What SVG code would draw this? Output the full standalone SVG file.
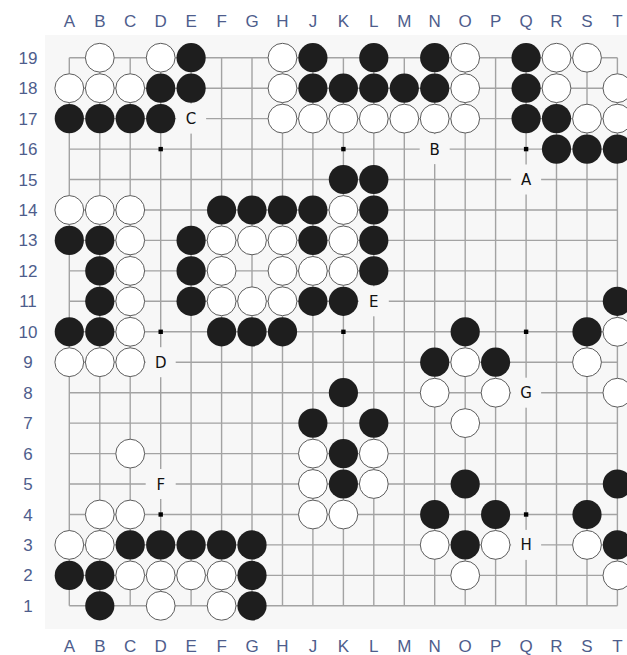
<svg xmlns="http://www.w3.org/2000/svg" xmlns:xlink="http://www.w3.org/1999/xlink" width="627" height="655" viewBox="0 0 627 655">
<style>
.coord{font-family:"Liberation Sans",Arial,sans-serif;font-size:17px;fill:#4e5d8c;text-anchor:middle}
.lbl{font-family:"DejaVu Sans","Liberation Sans",sans-serif;font-size:15px;fill:#111;text-anchor:middle}
.grid{stroke:#a3a3a3;stroke-width:1.4;fill:none}
.gap{fill:#f7f7f7}
</style>
<defs>
<circle id="bk" r="14.6" fill="#1e1e1e"/>
<circle id="wh" r="14.4" fill="#ffffff" stroke="#5c5c5c" stroke-width="1"/>
<rect id="star" x="-2.2" y="-2.2" width="4.4" height="4.4" fill="#000"/>
<rect id="lg" x="-15" y="-15" width="30" height="30" class="gap"/>
</defs>
<rect width="627" height="655" fill="#ffffff"/>
<rect x="45" y="35" width="582" height="594" fill="#f7f7f7"/>
<g id="coords">
<text class="coord" x="69.3" y="27">A</text><text class="coord" x="99.8" y="27">B</text><text class="coord" x="130.2" y="27">C</text><text class="coord" x="160.7" y="27">D</text><text class="coord" x="191.1" y="27">E</text><text class="coord" x="221.6" y="27">F</text><text class="coord" x="252" y="27">G</text><text class="coord" x="282.5" y="27">H</text><text class="coord" x="312.9" y="27">J</text><text class="coord" x="343.4" y="27">K</text><text class="coord" x="373.8" y="27">L</text><text class="coord" x="404.3" y="27">M</text><text class="coord" x="434.7" y="27">N</text><text class="coord" x="465.2" y="27">O</text><text class="coord" x="495.6" y="27">P</text><text class="coord" x="526.1" y="27">Q</text><text class="coord" x="556.5" y="27">R</text><text class="coord" x="587" y="27">S</text><text class="coord" x="617.4" y="27">T</text>
<text class="coord" x="69.3" y="652">A</text><text class="coord" x="99.8" y="652">B</text><text class="coord" x="130.2" y="652">C</text><text class="coord" x="160.7" y="652">D</text><text class="coord" x="191.1" y="652">E</text><text class="coord" x="221.6" y="652">F</text><text class="coord" x="252" y="652">G</text><text class="coord" x="282.5" y="652">H</text><text class="coord" x="312.9" y="652">J</text><text class="coord" x="343.4" y="652">K</text><text class="coord" x="373.8" y="652">L</text><text class="coord" x="404.3" y="652">M</text><text class="coord" x="434.7" y="652">N</text><text class="coord" x="465.2" y="652">O</text><text class="coord" x="495.6" y="652">P</text><text class="coord" x="526.1" y="652">Q</text><text class="coord" x="556.5" y="652">R</text><text class="coord" x="587" y="652">S</text><text class="coord" x="617.4" y="652">T</text>
<text class="coord" x="28" y="63.7">19</text><text class="coord" x="28" y="94.2">18</text><text class="coord" x="28" y="124.6">17</text><text class="coord" x="28" y="155.1">16</text><text class="coord" x="28" y="185.5">15</text><text class="coord" x="28" y="216">14</text><text class="coord" x="28" y="246.4">13</text><text class="coord" x="28" y="276.9">12</text><text class="coord" x="28" y="307.3">11</text><text class="coord" x="28" y="337.8">10</text><text class="coord" x="28" y="368.2">9</text><text class="coord" x="28" y="398.7">8</text><text class="coord" x="28" y="429.1">7</text><text class="coord" x="28" y="459.6">6</text><text class="coord" x="28" y="490">5</text><text class="coord" x="28" y="520.5">4</text><text class="coord" x="28" y="550.9">3</text><text class="coord" x="28" y="581.4">2</text><text class="coord" x="28" y="611.8">1</text>
</g>
<g id="grid">
<path class="grid" d="M69.3 57.7V605.8M99.8 57.7V605.8M130.2 57.7V605.8M160.7 57.7V605.8M191.1 57.7V605.8M221.6 57.7V605.8M252 57.7V605.8M282.5 57.7V605.8M312.9 57.7V605.8M343.4 57.7V605.8M373.8 57.7V605.8M404.3 57.7V605.8M434.7 57.7V605.8M465.2 57.7V605.8M495.6 57.7V605.8M526.1 57.7V605.8M556.5 57.7V605.8M587 57.7V605.8M617.4 57.7V605.8
M69.3 57.7H617.4M69.3 88.2H617.4M69.3 118.6H617.4M69.3 149.1H617.4M69.3 179.5H617.4M69.3 210H617.4M69.3 240.4H617.4M69.3 270.9H617.4M69.3 301.3H617.4M69.3 331.8H617.4M69.3 362.2H617.4M69.3 392.7H617.4M69.3 423.1H617.4M69.3 453.6H617.4M69.3 484H617.4M69.3 514.5H617.4M69.3 544.9H617.4M69.3 575.4H617.4M69.3 605.8H617.4"/>
</g>
<g id="stars">
<use href="#star" x="160.7" y="149.1"/><use href="#star" x="343.4" y="149.1"/><use href="#star" x="526.1" y="149.1"/>
<use href="#star" x="160.7" y="331.8"/><use href="#star" x="343.4" y="331.8"/><use href="#star" x="526.1" y="331.8"/>
<use href="#star" x="160.7" y="514.5"/><use href="#star" x="343.4" y="514.5"/><use href="#star" x="526.1" y="514.5"/>
</g>
<g id="black-stones">
<use href="#bk" x="191.1" y="57.7"/><use href="#bk" x="312.9" y="57.7"/><use href="#bk" x="373.8" y="57.7"/><use href="#bk" x="434.7" y="57.7"/><use href="#bk" x="526.1" y="57.7"/>
<use href="#bk" x="160.7" y="88.2"/><use href="#bk" x="191.1" y="88.2"/><use href="#bk" x="312.9" y="88.2"/><use href="#bk" x="343.4" y="88.2"/><use href="#bk" x="373.8" y="88.2"/><use href="#bk" x="404.3" y="88.2"/><use href="#bk" x="434.7" y="88.2"/><use href="#bk" x="526.1" y="88.2"/>
<use href="#bk" x="69.3" y="118.6"/><use href="#bk" x="99.8" y="118.6"/><use href="#bk" x="130.2" y="118.6"/><use href="#bk" x="160.7" y="118.6"/><use href="#bk" x="526.1" y="118.6"/><use href="#bk" x="556.5" y="118.6"/>
<use href="#bk" x="556.5" y="149.1"/><use href="#bk" x="587" y="149.1"/><use href="#bk" x="617.4" y="149.1"/>
<use href="#bk" x="343.4" y="179.5"/><use href="#bk" x="373.8" y="179.5"/>
<use href="#bk" x="221.6" y="210"/><use href="#bk" x="252" y="210"/><use href="#bk" x="282.5" y="210"/><use href="#bk" x="312.9" y="210"/><use href="#bk" x="373.8" y="210"/>
<use href="#bk" x="69.3" y="240.4"/><use href="#bk" x="99.8" y="240.4"/><use href="#bk" x="191.1" y="240.4"/><use href="#bk" x="312.9" y="240.4"/><use href="#bk" x="373.8" y="240.4"/>
<use href="#bk" x="99.8" y="270.9"/><use href="#bk" x="191.1" y="270.9"/><use href="#bk" x="373.8" y="270.9"/>
<use href="#bk" x="99.8" y="301.3"/><use href="#bk" x="191.1" y="301.3"/><use href="#bk" x="312.9" y="301.3"/><use href="#bk" x="343.4" y="301.3"/><use href="#bk" x="617.4" y="301.3"/>
<use href="#bk" x="69.3" y="331.8"/><use href="#bk" x="99.8" y="331.8"/><use href="#bk" x="221.6" y="331.8"/><use href="#bk" x="252" y="331.8"/><use href="#bk" x="282.5" y="331.8"/><use href="#bk" x="465.2" y="331.8"/><use href="#bk" x="587" y="331.8"/>
<use href="#bk" x="434.7" y="362.2"/><use href="#bk" x="495.6" y="362.2"/>
<use href="#bk" x="343.4" y="392.7"/>
<use href="#bk" x="312.9" y="423.1"/><use href="#bk" x="373.8" y="423.1"/>
<use href="#bk" x="343.4" y="453.6"/>
<use href="#bk" x="343.4" y="484"/><use href="#bk" x="465.2" y="484"/><use href="#bk" x="617.4" y="484"/>
<use href="#bk" x="434.7" y="514.5"/><use href="#bk" x="495.6" y="514.5"/><use href="#bk" x="587" y="514.5"/>
<use href="#bk" x="130.2" y="544.9"/><use href="#bk" x="160.7" y="544.9"/><use href="#bk" x="191.1" y="544.9"/><use href="#bk" x="221.6" y="544.9"/><use href="#bk" x="252" y="544.9"/><use href="#bk" x="465.2" y="544.9"/><use href="#bk" x="617.4" y="544.9"/>
<use href="#bk" x="69.3" y="575.4"/><use href="#bk" x="99.8" y="575.4"/><use href="#bk" x="252" y="575.4"/>
<use href="#bk" x="99.8" y="605.8"/><use href="#bk" x="252" y="605.8"/>
</g>
<g id="white-stones">
<use href="#wh" x="99.8" y="57.7"/><use href="#wh" x="160.7" y="57.7"/><use href="#wh" x="282.5" y="57.7"/><use href="#wh" x="465.2" y="57.7"/><use href="#wh" x="556.5" y="57.7"/><use href="#wh" x="587" y="57.7"/>
<use href="#wh" x="69.3" y="88.2"/><use href="#wh" x="99.8" y="88.2"/><use href="#wh" x="130.2" y="88.2"/><use href="#wh" x="282.5" y="88.2"/><use href="#wh" x="465.2" y="88.2"/><use href="#wh" x="556.5" y="88.2"/><use href="#wh" x="617.4" y="88.2"/>
<use href="#wh" x="282.5" y="118.6"/><use href="#wh" x="312.9" y="118.6"/><use href="#wh" x="343.4" y="118.6"/><use href="#wh" x="373.8" y="118.6"/><use href="#wh" x="404.3" y="118.6"/><use href="#wh" x="434.7" y="118.6"/><use href="#wh" x="465.2" y="118.6"/><use href="#wh" x="587" y="118.6"/><use href="#wh" x="617.4" y="118.6"/>
<use href="#wh" x="69.3" y="210"/><use href="#wh" x="99.8" y="210"/><use href="#wh" x="130.2" y="210"/><use href="#wh" x="343.4" y="210"/>
<use href="#wh" x="130.2" y="240.4"/><use href="#wh" x="221.6" y="240.4"/><use href="#wh" x="252" y="240.4"/><use href="#wh" x="282.5" y="240.4"/><use href="#wh" x="343.4" y="240.4"/>
<use href="#wh" x="130.2" y="270.9"/><use href="#wh" x="221.6" y="270.9"/><use href="#wh" x="282.5" y="270.9"/><use href="#wh" x="312.9" y="270.9"/><use href="#wh" x="343.4" y="270.9"/>
<use href="#wh" x="130.2" y="301.3"/><use href="#wh" x="221.6" y="301.3"/><use href="#wh" x="252" y="301.3"/><use href="#wh" x="282.5" y="301.3"/>
<use href="#wh" x="130.2" y="331.8"/><use href="#wh" x="617.4" y="331.8"/>
<use href="#wh" x="69.3" y="362.2"/><use href="#wh" x="99.8" y="362.2"/><use href="#wh" x="130.2" y="362.2"/><use href="#wh" x="465.2" y="362.2"/><use href="#wh" x="587" y="362.2"/>
<use href="#wh" x="434.7" y="392.7"/><use href="#wh" x="495.6" y="392.7"/><use href="#wh" x="617.4" y="392.7"/>
<use href="#wh" x="465.2" y="423.1"/>
<use href="#wh" x="130.2" y="453.6"/><use href="#wh" x="312.9" y="453.6"/><use href="#wh" x="373.8" y="453.6"/>
<use href="#wh" x="312.9" y="484"/><use href="#wh" x="373.8" y="484"/>
<use href="#wh" x="99.8" y="514.5"/><use href="#wh" x="130.2" y="514.5"/><use href="#wh" x="312.9" y="514.5"/><use href="#wh" x="343.4" y="514.5"/>
<use href="#wh" x="69.3" y="544.9"/><use href="#wh" x="99.8" y="544.9"/><use href="#wh" x="434.7" y="544.9"/><use href="#wh" x="495.6" y="544.9"/><use href="#wh" x="587" y="544.9"/>
<use href="#wh" x="130.2" y="575.4"/><use href="#wh" x="160.7" y="575.4"/><use href="#wh" x="191.1" y="575.4"/><use href="#wh" x="221.6" y="575.4"/><use href="#wh" x="465.2" y="575.4"/><use href="#wh" x="617.4" y="575.4"/>
<use href="#wh" x="160.7" y="605.8"/><use href="#wh" x="221.6" y="605.8"/>
</g>
<g id="labels">
<g id="label-A"><use href="#lg" x="526.1" y="179.5"/><text class="lbl" x="526.1" y="185">A</text></g>
<g id="label-B"><use href="#lg" x="434.7" y="149.1"/><text class="lbl" x="434.7" y="154.6">B</text></g>
<g id="label-C"><use href="#lg" x="191.1" y="118.6"/><text class="lbl" x="191.1" y="124.1">C</text></g>
<g id="label-D"><use href="#lg" x="160.7" y="362.2"/><text class="lbl" x="160.7" y="367.7">D</text></g>
<g id="label-E"><use href="#lg" x="373.8" y="301.3"/><text class="lbl" x="373.8" y="306.8">E</text></g>
<g id="label-F"><use href="#lg" x="160.7" y="484"/><text class="lbl" x="160.7" y="489.5">F</text></g>
<g id="label-G"><use href="#lg" x="526.1" y="392.7"/><text class="lbl" x="526.1" y="398.2">G</text></g>
<g id="label-H"><use href="#lg" x="526.1" y="544.9"/><text class="lbl" x="526.1" y="550.4">H</text></g>
</g>
</svg>
